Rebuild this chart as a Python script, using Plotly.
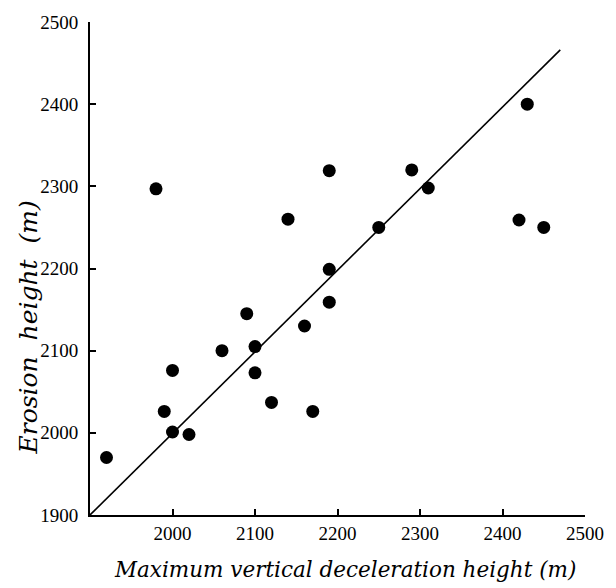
import plotly.graph_objects as go

# Data
max_decel_height = [1920, 1980, 1990, 2000, 2000, 2020, 2060, 2090, 2100, 2100,
                    2120, 2140, 2160, 2170, 2190, 2190, 2190, 2250, 2290, 2310,
                    2420, 2430, 2450]
erosion_height = [1970, 2297, 2026, 2076, 2001, 1998, 2100, 2145, 2105, 2073,
                  2037, 2260, 2130, 2026, 2319, 2199, 2159, 2250, 2320, 2298,
                  2259, 2400, 2250]

fit_x = [1900, 2470]
fit_y = [1900, 2466]

x_ticks = [2000, 2100, 2200, 2300, 2400, 2500]
y_ticks = [1900, 2000, 2100, 2200, 2300, 2400, 2500]

serif = "Liberation Serif, Times New Roman, serif"
title_font = "DejaVu Serif, serif"

fig = go.Figure()
fig.add_trace(go.Scatter(x=fit_x, y=fit_y, mode="lines",
                         line=dict(color="black", width=1.6),
                         hoverinfo="skip", showlegend=False))
fig.add_trace(go.Scatter(x=max_decel_height, y=erosion_height, mode="markers",
                         marker=dict(color="black", size=13, line=dict(width=0)),
                         showlegend=False))

fig.update_layout(
    width=616, height=588,
    margin=dict(l=90, r=24, t=14, b=73),
    plot_bgcolor="white", paper_bgcolor="white",
    font=dict(family=serif, color="black", size=19),
    xaxis=dict(range=[1900, 2500], tickvals=x_ticks, ticktext=[str(v) for v in x_ticks],
               ticks="inside", ticklen=6, tickwidth=1.5, tickcolor="black",
               showline=True, linecolor="black", linewidth=2, showgrid=False,
               zeroline=False, tickfont=dict(size=19, family=serif, color="black")),
    yaxis=dict(range=[1900, 2500], tickvals=y_ticks, ticktext=[str(v) for v in y_ticks],
               ticks="inside", ticklen=6, tickwidth=1.5, tickcolor="black",
               showline=True, linecolor="black", linewidth=2, showgrid=False,
               zeroline=False, tickfont=dict(size=19, family=serif, color="black"),
               ticklabelstandoff=6),
    annotations=[
        dict(text="Erosion\u00a0 height\u00a0 (m)", textangle=-90,
             xref="paper", yref="paper", x=-0.1235, y=0.38,
             xanchor="center", yanchor="middle", showarrow=False,
             font=dict(size=25, family=title_font, style="italic", color="black")),
        dict(text="Maximum vertical deceleration height (m)",
             xref="paper", yref="paper", x=0.516, y=-0.11,
             xanchor="center", yanchor="middle", showarrow=False,
             font=dict(size=21.5, family=title_font, style="italic", color="black")),
    ],
)

fig.write_html("out.html")
